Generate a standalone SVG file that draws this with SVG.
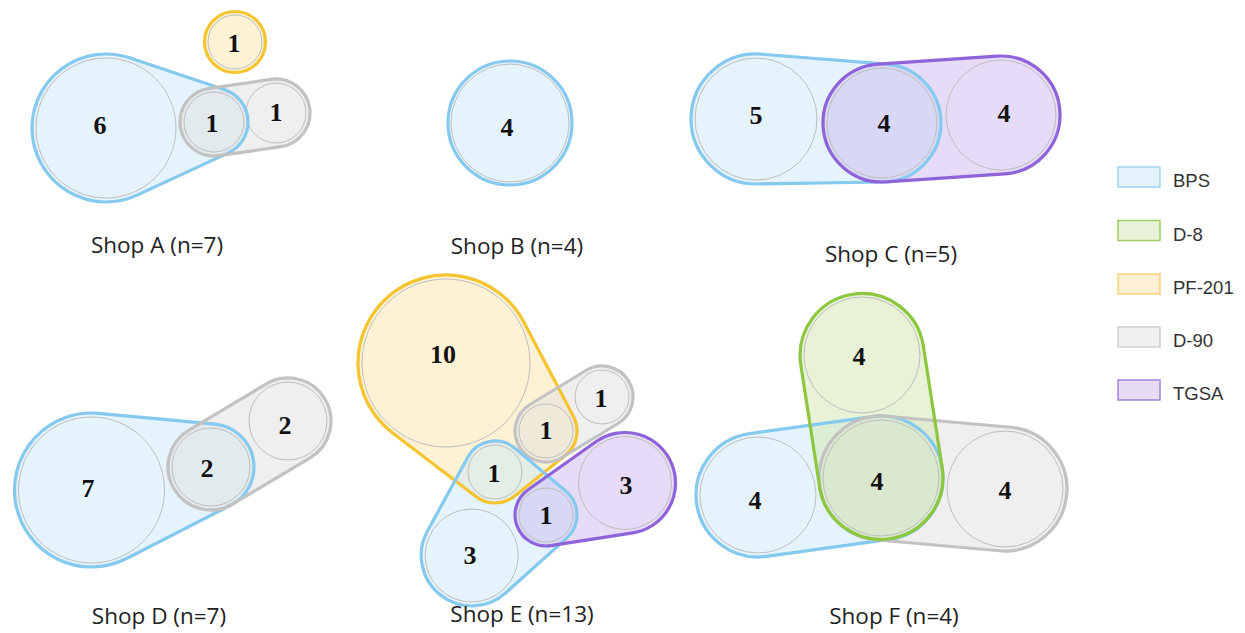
<svg xmlns="http://www.w3.org/2000/svg" xmlns:xlink="http://www.w3.org/1999/xlink" width="1245" height="633" viewBox="0 0 1245 633">
<style>
.hf{stroke:none;fill-opacity:0.5}
.hs{fill:none;stroke-width:3.2;stroke-linejoin:round}
.bps-f{fill:#cce9fa}.bps-s{stroke:#85c9ee}
.pf-f{fill:#fce5a8}.pf-s{stroke:#f4c431}
.d90-f{fill:#e0e0e0}.d90-s{stroke:#c2c2c2}
.tg-f{fill:#cdb9ef}.tg-s{stroke:#8f63d9}
.d8-f{fill:#cfe6ad}.d8-s{stroke:#8dc63f}
.ic{fill:none;stroke:#bdbdbd;stroke-width:1}
.num{font-family:"Liberation Serif","Times New Roman",serif;font-weight:bold;font-size:26px;text-anchor:middle;fill:#111}
.cap{font-family:"Open Sans","Liberation Sans",sans-serif;font-size:22.5px;text-anchor:middle;fill:#222}
.lg{font-family:"Liberation Sans",Arial,sans-serif;font-size:18.5px;fill:#333}
.lr{stroke-width:1.5}
</style>
<defs>
<path id="aB" d="M137.12,195.13 L228.30,152.84 A34,34 0 0 0 224.80,89.76 L129.50,57.83 A74,74 0 1 0 137.12,195.13 Z"/>
<path id="aG" d="M218.89,155.65 L280.89,146.65 A34,34 0 0 0 271.11,79.35 L209.11,88.35 A34,34 0 0 0 218.89,155.65 Z"/>
<circle id="aP" cx="235" cy="42" r="30.5"/>
<circle id="bB" cx="510" cy="123" r="62"/>
<path id="cB" d="M757.03,183.99 L882.94,181.99 A59,59 0 0 0 886.68,64.19 L761.16,54.20 A65,65 0 1 0 757.03,183.99 Z"/>
<path id="cT" d="M885.96,181.87 L1004.96,173.87 A59,59 0 0 0 997.04,56.13 L878.04,64.13 A59,59 0 0 0 885.96,181.87 Z"/>
<path id="dB" d="M126.60,558.54 L230.60,505.27 A43,43 0 0 0 214.99,424.19 L98.65,413.33 A77,77 0 1 0 126.60,558.54 Z"/>
<path id="dG" d="M233.05,503.92 L310.05,457.92 A43,43 0 0 0 265.95,384.08 L188.95,430.08 A43,43 0 0 0 233.05,503.92 Z"/>
<path id="eP" d="M392.65,432.99 L476.21,496.65 A31,31 0 0 0 514.42,496.16 L565.42,455.16 A31,31 0 0 0 573.46,416.61 L523.94,322.15 A88,88 0 1 0 392.65,432.99 Z"/>
<path id="eG" d="M562.09,457.50 L618.09,423.50 A31,31 0 0 0 585.91,370.50 L529.91,404.50 A31,31 0 0 0 562.09,457.50 Z"/>
<path id="eT" d="M550.76,545.63 L632.75,532.90 A50.5,50.5 0 1 0 595.84,441.77 L528.10,489.69 A31,31 0 0 0 550.76,545.63 Z"/>
<path id="eB" d="M467.78,457.17 L427.36,531.34 A50.5,50.5 0 0 0 505.42,593.09 L566.70,538.08 A31,31 0 0 0 565.98,491.30 L514.98,448.30 A31,31 0 0 0 467.78,457.17 Z"/>
<path id="fD8" d="M800.73,364.47 L819.73,487.47 A62,62 0 0 0 942.27,468.53 L923.27,345.53 A62,62 0 0 0 800.73,364.47 Z"/>
<path id="fB" d="M766.49,556.42 L889.49,539.42 A62,62 0 0 0 872.51,416.58 L749.51,433.58 A62,62 0 0 0 766.49,556.42 Z"/>
<path id="fG" d="M875.52,539.76 L999.52,550.76 A62,62 0 0 0 1010.48,427.24 L886.48,416.24 A62,62 0 0 0 875.52,539.76 Z"/>
</defs>
<rect width="1245" height="633" fill="#ffffff"/>

<g id="shopA">
<use xlink:href="#aB" class="hf bps-f"/>
<use xlink:href="#aG" class="hf d90-f"/>
<use xlink:href="#aP" class="hf pf-f"/>
<circle class="ic" cx="106" cy="128" r="70"/>
<circle class="ic" cx="214" cy="122" r="30"/>
<circle class="ic" cx="276" cy="113" r="30"/>
<circle class="ic" cx="235" cy="42" r="27"/>
<use xlink:href="#aB" class="hs bps-s"/>
<use xlink:href="#aG" class="hs d90-s"/>
<use xlink:href="#aP" class="hs pf-s"/>
<text class="num" x="100" y="134">6</text>
<text class="num" x="212" y="132">1</text>
<text class="num" x="276" y="121">1</text>
<text class="num" x="234" y="52">1</text>
<text class="cap" x="157" y="253">Shop A (n=7)</text>
</g>

<g id="shopB">
<use xlink:href="#bB" class="hf bps-f"/>
<circle class="ic" cx="510" cy="123" r="59"/>
<use xlink:href="#bB" class="hs bps-s"/>
<text class="num" x="507" y="136">4</text>
<text class="cap" x="517" y="254">Shop B (n=4)</text>
</g>

<g id="shopC">
<use xlink:href="#cB" class="hf bps-f"/>
<use xlink:href="#cT" class="hf tg-f"/>
<circle class="ic" cx="756" cy="119" r="61"/>
<circle class="ic" cx="882" cy="123" r="55"/>
<circle class="ic" cx="1001" cy="115" r="55"/>
<use xlink:href="#cB" class="hs bps-s"/>
<use xlink:href="#cT" class="hs tg-s"/>
<text class="num" x="756" y="124">5</text>
<text class="num" x="884" y="132">4</text>
<text class="num" x="1004" y="122">4</text>
<text class="cap" x="891" y="262">Shop C (n=5)</text>
</g>

<g id="shopD">
<use xlink:href="#dB" class="hf bps-f"/>
<use xlink:href="#dG" class="hf d90-f"/>
<circle class="ic" cx="91.5" cy="490" r="73"/>
<circle class="ic" cx="211" cy="467" r="39"/>
<circle class="ic" cx="288" cy="421" r="39"/>
<use xlink:href="#dB" class="hs bps-s"/>
<use xlink:href="#dG" class="hs d90-s"/>
<text class="num" x="88" y="497">7</text>
<text class="num" x="207" y="477">2</text>
<text class="num" x="285" y="434">2</text>
<text class="cap" x="159" y="624">Shop D (n=7)</text>
</g>

<g id="shopE">
<use xlink:href="#eP" class="hf pf-f"/>
<use xlink:href="#eG" class="hf d90-f"/>
<use xlink:href="#eB" class="hf bps-f"/>
<use xlink:href="#eT" class="hf tg-f"/>
<circle class="ic" cx="446" cy="363" r="84"/>
<circle class="ic" cx="602" cy="397" r="27"/>
<circle class="ic" cx="546" cy="431" r="27"/>
<circle class="ic" cx="495" cy="472" r="27"/>
<circle class="ic" cx="546" cy="515" r="27"/>
<circle class="ic" cx="625" cy="483" r="46.5"/>
<circle class="ic" cx="471.7" cy="555.5" r="46.5"/>
<use xlink:href="#eP" class="hs pf-s"/>
<use xlink:href="#eG" class="hs d90-s"/>
<use xlink:href="#eB" class="hs bps-s"/>
<use xlink:href="#eT" class="hs tg-s"/>
<text class="num" x="443" y="363">10</text>
<text class="num" x="601" y="407">1</text>
<text class="num" x="546" y="439">1</text>
<text class="num" x="494" y="482">1</text>
<text class="num" x="546" y="524">1</text>
<text class="num" x="626" y="494">3</text>
<text class="num" x="470" y="564">3</text>
<text class="cap" x="522" y="622">Shop E (n=13)</text>
</g>

<g id="shopF">
<use xlink:href="#fB" class="hf bps-f"/>
<use xlink:href="#fG" class="hf d90-f"/>
<use xlink:href="#fD8" class="hf d8-f"/>
<circle class="ic" cx="862" cy="355" r="58"/>
<circle class="ic" cx="881" cy="478" r="58"/>
<circle class="ic" cx="758" cy="495" r="58"/>
<circle class="ic" cx="1005" cy="489" r="58"/>
<use xlink:href="#fB" class="hs bps-s"/>
<use xlink:href="#fG" class="hs d90-s"/>
<use xlink:href="#fD8" class="hs d8-s"/>
<text class="num" x="859" y="365">4</text>
<text class="num" x="877" y="490">4</text>
<text class="num" x="755" y="509">4</text>
<text class="num" x="1005" y="499">4</text>
<text class="cap" x="894" y="624">Shop F (n=4)</text>
</g>

<g id="legend">
<g id="lg-bps"><rect class="lr" x="1118" y="167" width="42" height="20" fill="#e3f2fb" stroke="#9fd5f0"/><text class="lg" x="1173" y="187">BPS</text></g>
<g id="lg-d8"><rect class="lr" x="1118" y="220.5" width="42" height="20" fill="#e8f2d8" stroke="#9fcd62"/><text class="lg" x="1173" y="240.5">D-8</text></g>
<g id="lg-pf"><rect class="lr" x="1118" y="274" width="42" height="20" fill="#fdf0d5" stroke="#f8d27a"/><text class="lg" x="1173" y="294">PF-201</text></g>
<g id="lg-d90"><rect class="lr" x="1118" y="327" width="42" height="20" fill="#f0f0f0" stroke="#cfcfcf"/><text class="lg" x="1173" y="347">D-90</text></g>
<g id="lg-tgsa"><rect class="lr" x="1118" y="380" width="42" height="20" fill="#e6dcf3" stroke="#a283dc"/><text class="lg" x="1173" y="400">TGSA</text></g>
</g>
</svg>
